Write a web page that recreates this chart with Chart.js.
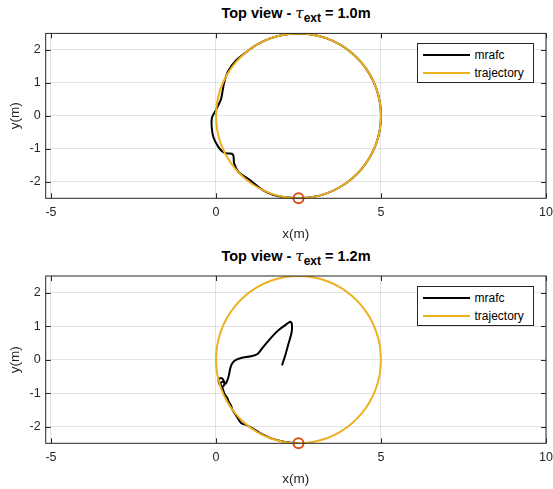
<!DOCTYPE html>
<html>
<head>
<meta charset="utf-8">
<script src="https://cdn.jsdelivr.net/npm/chart.js@4/dist/chart.umd.min.js"></script>
<style>
  body { margin: 0; background: #fff; font-family: "Liberation Sans", Arial, sans-serif; }
  #wrap { position: relative; width: 553px; height: 489px; overflow: hidden; }
  canvas { position: absolute; left: 0; }
  .title {
    position: absolute; left: 46px; width: 500px; text-align: center;
    font-size: 14.5px; font-weight: bold; color: #000; line-height: 17px; white-space: nowrap;
  }
  .title i { font-weight: normal; font-family: "DejaVu Serif", serif; font-size: 15px; }
  .title .sub { position: relative; top: 4px; font-size: 12px; }
  .legend {
    position: absolute; left: 416.5px; width: 117px; height: 40px;
    background: #fff; border: 1px solid #262626; box-sizing: border-box;
    font-size: 12px; color: #000;
  }
  .legend .row { position: absolute; left: 0; height: 14px; line-height: 14px; }
  .legend .swatch { position: absolute; left: 5px; top: 6px; width: 47px; height: 2px; }
  .legend .label { position: absolute; left: 57px; top: 0; white-space: nowrap; }
</style>
</head>
<body>
<div id="wrap">
  <div class="title" style="top:5px">Top view - <i>τ</i><span class="sub">ext</span> = 1.0m</div>
  <canvas id="topChart" width="553" height="244" style="top:0"></canvas>
  <div class="legend" style="top:42.5px">
    <div class="row" style="top:4.5px"><div class="swatch" style="background:#000"></div><span class="label">mrafc</span></div>
    <div class="row" style="top:22.5px"><div class="swatch" style="background:#EDB120"></div><span class="label">trajectory</span></div>
  </div>

  <div class="title" style="top:248px">Top view - <i>τ</i><span class="sub">ext</span> = 1.2m</div>
  <canvas id="bottomChart" width="553" height="245" style="top:244px"></canvas>
  <div class="legend" style="top:285.5px">
    <div class="row" style="top:4.5px"><div class="swatch" style="background:#000"></div><span class="label">mrafc</span></div>
    <div class="row" style="top:22.5px"><div class="swatch" style="background:#EDB120"></div><span class="label">trajectory</span></div>
  </div>
</div>

<script>
// axis ticks
const xTicks = [-5, 0, 5, 10];
const yTicks = [-2, -1, 0, 1, 2];

// reference trajectory (circle, 10 degree steps)
const trajX = [5, 4.962, 4.849, 4.665, 4.415, 4.107, 3.75, 3.355, 2.934, 2.5, 2.066, 1.645, 1.25, 0.893, 0.585, 0.335, 0.151, 0.038,
               0, 0.038, 0.151, 0.335, 0.585, 0.893, 1.25, 1.645, 2.066, 2.5, 2.934, 3.355, 3.75, 4.107, 4.415, 4.665, 4.849, 4.962, 5];
const trajY = [0, 0.434, 0.855, 1.25, 1.607, 1.915, 2.165, 2.349, 2.462, 2.5, 2.462, 2.349, 2.165, 1.915, 1.607, 1.25, 0.855, 0.434,
               0, -0.434, -0.855, -1.25, -1.607, -1.915, -2.165, -2.349, -2.462, -2.5, -2.462, -2.349, -2.165, -1.915, -1.607, -1.25, -0.855, -0.434, 0];

// start point marker
const startX = [2.5];
const startY = [-2.5];

// mrafc, tau_ext = 1.0m
const mrafc1X = [2.5, 2.1, 1.75, 1.43, 1.18, 1.03, 0.88, 0.68, 0.55, 0.53, 0.48, 0.35, 0.22, 0.07, -0.08, -0.13, -0.12, 0.02, 0.15, 0.2, 0.25, 0.37,
                 0.6, 0.893, 1.25, 1.645, 2.066, 2.5, 2.934, 3.355, 3.75, 4.107, 4.415, 4.665, 4.849, 4.962, 5,
                 4.962, 4.849, 4.665, 4.415, 4.107, 3.75, 3.355, 2.934, 2.5];
const mrafc1Y = [-2.5, -2.47, -2.4, -2.26, -2.07, -1.95, -1.85, -1.7, -1.44, -1.22, -1.15, -1.14, -1.1, -0.94, -0.64, -0.33, -0.05, 0.22, 0.5, 0.75, 1.02, 1.36,
                 1.67, 1.915, 2.165, 2.349, 2.462, 2.5, 2.462, 2.349, 2.165, 1.915, 1.607, 1.25, 0.855, 0.434, 0,
                 -0.434, -0.855, -1.25, -1.607, -1.915, -2.165, -2.349, -2.462, -2.5];

// mrafc, tau_ext = 1.2m
const mrafc2X = [2.5, 2.1, 1.7, 1.35, 1.12, 0.96, 0.76, 0.61, 0.5, 0.45, 0.38, 0.35, 0.25, 0.2, 0.1, 0.08, 0.15, 0.23, 0.25, 0.18, 0.14, 0.22, 0.29,
                 0.38, 0.45, 0.56, 0.76, 1.06, 1.26, 1.41, 1.62, 1.87, 2.07, 2.25, 2.3, 2.29, 2.19, 2.09, 2.0];
const mrafc2Y = [-2.5, -2.46, -2.36, -2.2, -2.06, -1.97, -1.89, -1.67, -1.5, -1.36, -1.25, -1.16, -1.01, -0.85, -0.72, -0.6, -0.55, -0.62, -0.75, -0.82, -0.7, -0.66, -0.72,
                 -0.51, -0.2, -0.03, 0.05, 0.1, 0.17, 0.35, 0.6, 0.86, 1.01, 1.13, 1.06, 0.81, 0.45, 0.1, -0.17];

const toPoints = (xs, ys) => xs.map((x, i) => ({ x, y: ys[i] }));

const AXIS_COLOR = '#262626';
const FONT = '"Liberation Sans", Arial, sans-serif';

// box around the axes with inward tick marks on all sides
const axesBox = {
    id: 'axesBox',
    afterDatasetsDraw(chart) {
        const { ctx, chartArea: a, scales: { x, y } } = chart;
        ctx.save();
        ctx.strokeStyle = AXIS_COLOR;
        ctx.lineWidth = 1;
        ctx.beginPath();
        xTicks.forEach(v => {
            const px = Math.round(x.getPixelForValue(v)) + 0.5;
            ctx.moveTo(px, a.bottom); ctx.lineTo(px, a.bottom - 5);
            ctx.moveTo(px, a.top); ctx.lineTo(px, a.top + 5);
        });
        yTicks.forEach(v => {
            const py = Math.round(y.getPixelForValue(v)) + 0.5;
            ctx.moveTo(a.left, py); ctx.lineTo(a.left + 5, py);
            ctx.moveTo(a.right, py); ctx.lineTo(a.right - 5, py);
        });
        ctx.stroke();
        ctx.strokeRect(a.left, a.top, a.right - a.left, a.bottom - a.top);
        ctx.restore();
    }
};

function renderTopView(id, mx, my, padTop) {
    const ctx = document.getElementById(id).getContext('2d');
    return new Chart(ctx, {
        type: 'scatter',
        data: {
            datasets: [
                {
                    label: 'start',
                    data: toPoints(startX, startY),
                    showLine: false,
                    clip: false,
                    pointStyle: 'circle',
                    pointRadius: 5,
                    pointBorderWidth: 2,
                    pointBorderColor: '#D95319',
                    pointBackgroundColor: 'rgba(0,0,0,0)',
                    order: 0
                },
                {
                    label: 'trajectory',
                    data: toPoints(trajX, trajY),
                    showLine: true,
                    borderColor: '#EDB120',
                    borderWidth: 2,
                    pointRadius: 0,
                    tension: 0.4,
                    order: 1
                },
                {
                    label: 'mrafc',
                    data: toPoints(mx, my),
                    showLine: true,
                    borderColor: '#000',
                    borderWidth: 2,
                    pointRadius: 0,
                    tension: 0.3,
                    order: 2
                }
            ]
        },
        options: {
            responsive: false,
            animation: false,
            events: [],
            layout: { padding: { top: padTop, right: 7, bottom: 0, left: 0 } },
            plugins: {
                legend: { display: false },
                tooltip: { enabled: false },
                title: { display: false }
            },
            scales: {
                x: {
                    type: 'linear',
                    min: -5.16,
                    max: 10,
                    afterFit: (s) => { s.height = 45.7; s.paddingLeft = 0; s.paddingRight = 0; },
                    afterBuildTicks: (s) => { s.ticks = xTicks.map(v => ({ value: v })); },
                    grid: { color: 'rgba(38,38,38,0.13)', drawTicks: false },
                    border: { display: false },
                    ticks: {
                        padding: 7,
                        color: AXIS_COLOR,
                        font: { family: FONT, size: 12.5 },
                        maxRotation: 0,
                        callback: (v) => String(v)
                    },
                    title: {
                        display: true,
                        text: 'x(m)',
                        color: AXIS_COLOR,
                        padding: { top: 0, bottom: 2 },
                        font: { family: FONT, size: 13.5 }
                    }
                },
                y: {
                    type: 'linear',
                    min: -2.5,
                    max: 2.5,
                    afterFit: (s) => { s.width = 45.7; s.paddingTop = 0; s.paddingBottom = 0; },
                    afterBuildTicks: (s) => { s.ticks = yTicks.map(v => ({ value: v })); },
                    grid: { color: 'rgba(38,38,38,0.13)', drawTicks: false },
                    border: { display: false },
                    ticks: {
                        padding: 5,
                        color: AXIS_COLOR,
                        font: { family: FONT, size: 12.5 },
                        callback: (v) => String(v)
                    },
                    title: {
                        display: true,
                        text: 'y(m)',
                        color: AXIS_COLOR,
                        padding: { top: 7, bottom: 0 },
                        font: { family: FONT, size: 13.5 }
                    }
                }
            }
        },
        plugins: [axesBox]
    });
}

renderTopView('topChart', mrafc1X, mrafc1Y, 33.4);
renderTopView('bottomChart', mrafc2X, mrafc2Y, 32);
</script>
</body>
</html>
